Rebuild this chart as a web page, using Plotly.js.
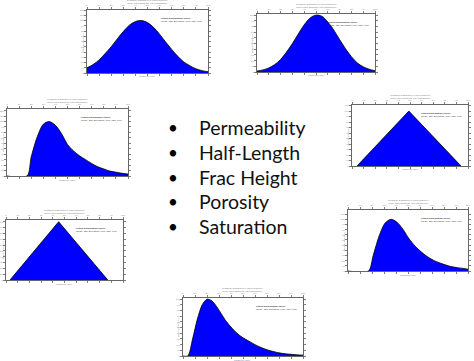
<!DOCTYPE html>
<html>
<head>
<meta charset="utf-8">
<script src="https://cdn.plot.ly/plotly-3.0.1.min.js"></script>
<style>
  html, body { margin: 0; padding: 0; background: #fff; }
  #chart { width: 474px; height: 361px; }
</style>
</head>
<body>
<div id="chart"></div>
<script>
// Uncertain reservoir inputs, listed in the centre of the slide
const inputNames = ["Permeability", "Half-Length", "Frac Height", "Porosity", "Saturation"];

// Panel 1: normal distribution (top left)
const curve1X = [0, 5, 10, 15, 20, 25, 30, 35, 40, 45, 50, 55, 60, 65, 70, 75, 80, 85, 90, 95, 100];
const curve1Y = [10, 16, 25, 37, 50, 65, 79, 91, 98, 100, 96, 87, 74, 59, 45, 32, 21, 14, 8, 4.5, 2.4];

// Panel 2: normal distribution (top right)
const curve2X = [0, 5, 10, 15, 20, 25, 30, 35, 40, 45, 50, 55, 60, 65, 70, 75, 80, 85, 90, 95, 100];
const curve2Y = [1.7, 3.7, 7.2, 13, 22, 35, 50, 67, 83, 95, 100, 98, 88, 74, 57, 41, 27, 16, 9.3, 4.9, 2.3];

// Panel 3: log-normal distribution (left)
const curve3X = [0, 16.5, 20, 25, 30, 35, 40, 45, 50, 55, 60, 65, 70, 75, 80, 85, 90, 95, 100];
const curve3Y = [0, 0, 35, 72, 95, 100, 93, 78, 58, 46, 37, 30, 23, 17, 13, 9, 7, 5, 3.5];

// Panel 4: triangular distribution (right)
const curve4X = [4.3, 49, 94];
const curve4Y = [0, 100, 0];

// Panel 5: triangular distribution (lower left)
const curve5X = [3.4, 45, 87];
const curve5Y = [0, 100, 0];

// Panel 6: log-normal distribution (lower right)
const curve6X = [0, 17, 21, 26, 31, 36, 41, 46, 51, 56, 61, 66, 71, 76, 81, 86, 91, 96, 100];
const curve6Y = [0, 0, 30, 68, 93, 100, 94, 80, 62, 48, 37, 28, 21, 16, 12, 8.5, 6.5, 5, 3.5];

// Panel 7: log-normal distribution (bottom)
const curve7X = [0, 4, 8, 12, 16, 20, 24, 28, 32, 36, 40, 45, 50, 55, 60, 65, 70, 75, 80, 85, 90, 95, 100];
const curve7Y = [0, 0, 30, 65, 90, 100, 97, 87, 74, 61, 51, 40, 32, 26, 20, 15, 11, 8, 5.5, 4, 3, 2, 1.5];

// Panel placement in pixels [left, top, right, bottom] and y-axis ceiling
const W = 474, H = 361;
const panels = [
  { x: curve1X, y: curve1Y, box: [87, 10, 208, 73],  ymax: 120, smooth: 1 },
  { x: curve2X, y: curve2Y, box: [257, 14, 375, 72], ymax: 102, smooth: 1 },
  { x: curve3X, y: curve3Y, box: [7, 109, 128, 176], ymax: 123, smooth: 0.8 },
  { x: curve4X, y: curve4Y, box: [352, 105, 468, 166], ymax: 111, smooth: 0 },
  { x: curve5X, y: curve5Y, box: [6, 220, 123, 280], ymax: 103, smooth: 0 },
  { x: curve6X, y: curve6Y, box: [348, 210, 468, 271], ymax: 118, smooth: 0.8 },
  { x: curve7X, y: curve7Y, box: [183, 298, 303, 356], ymax: 102, smooth: 0.8 }
];

const traces = [];
const layout = {
  width: W, height: H,
  margin: { l: 0, r: 0, t: 0, b: 0 },
  paper_bgcolor: '#ffffff',
  plot_bgcolor: '#ffffff',
  showlegend: false,
  font: { family: 'Liberation Sans, Arial, sans-serif', color: '#000' },
  annotations: []
};

const tickFont = { size: 2.5, color: '#8a8a8a' };
const smallFont = { size: 2.2, color: '#777' };

panels.forEach((p, i) => {
  const n = i + 1;
  const xa = 'xaxis' + (n === 1 ? '' : n);
  const ya = 'yaxis' + (n === 1 ? '' : n);
  const xr = 'x' + (n === 1 ? '' : n);
  const yr = 'y' + (n === 1 ? '' : n);
  const [l, t, r, b] = p.box;

  traces.push({
    type: 'scatter', mode: 'lines',
    x: p.x, y: p.y, xaxis: xr, yaxis: yr,
    fill: 'tozeroy', fillcolor: '#0000ff',
    line: { color: '#000000', width: 0.8, shape: p.smooth ? 'spline' : 'linear', smoothing: p.smooth || 0 },
    hoverinfo: 'skip'
  });

  const common = {
    showgrid: false, zeroline: false, showline: true,
    linecolor: '#000', linewidth: 0.6,
    mirror: 'allticks', ticks: 'outside', ticklen: 2, tickwidth: 0.5, tickcolor: '#000',
    tickfont: tickFont, fixedrange: true
  };
  layout[xa] = Object.assign({}, common, {
    domain: [l / W, r / W], anchor: yr, range: [0, 100], dtick: 10, side: 'top'
  });
  layout[ya] = Object.assign({}, common, {
    domain: [1 - b / H, 1 - t / H], anchor: xr, range: [0, p.ymax], dtick: 10
  });

  const cx = (l + r) / 2 / W;
  // panel title (two lines)
  layout.annotations.push({
    xref: 'paper', yref: 'paper', x: cx, y: 1 - (t - 3) / H,
    xanchor: 'center', yanchor: 'bottom', showarrow: false,
    text: 'Probability Distribution of Input Parameter<br>Monte Carlo Sampling, Fitted Distribution',
    font: smallFont
  });
  // x-axis title
  layout.annotations.push({
    xref: 'paper', yref: 'paper', x: cx, y: 1 - (b + 0.5) / H,
    xanchor: 'center', yanchor: 'top', showarrow: false,
    text: 'Parameter Value', font: smallFont
  });
  // y-axis title
  layout.annotations.push({
    xref: 'paper', yref: 'paper', x: Math.max(l - 5, 2.5) / W, y: 1 - (t + b) / 2 / H,
    xanchor: 'center', yanchor: 'middle', showarrow: false, textangle: -90,
    text: 'Relative Frequency', font: smallFont
  });
  // legend block, upper right inside the frame
  layout.annotations.push({
    xref: 'paper', yref: 'paper', x: (r - 4) / W, y: 1 - (t + 5) / H,
    xanchor: 'right', yanchor: 'top', showarrow: false, align: 'left',
    text: '<b>Fitted Distribution Curve</b><br>Mean, Std. Deviation, P10, P50, P90',
    font: { size: 2.5, color: '#333' }
  });
});

// bulleted list in the middle
const rowY = [128, 152.5, 177, 201.5, 226];
inputNames.forEach((name, k) => {
  layout.annotations.push({
    xref: 'paper', yref: 'paper', x: 173 / W, y: 1 - rowY[k] / H,
    xanchor: 'center', yanchor: 'middle', showarrow: false,
    text: '•', font: { family: 'Lato, sans-serif', size: 17, color: '#000' }
  });
  layout.annotations.push({
    xref: 'paper', yref: 'paper', x: 197 / W, y: 1 - rowY[k] / H,
    xanchor: 'left', yanchor: 'middle', showarrow: false,
    text: name, font: { family: 'Lato, sans-serif', size: 19.5, color: '#111' }
  });
});

Plotly.newPlot('chart', traces, layout, { staticPlot: true, displayModeBar: false });
</script>
</body>
</html>
